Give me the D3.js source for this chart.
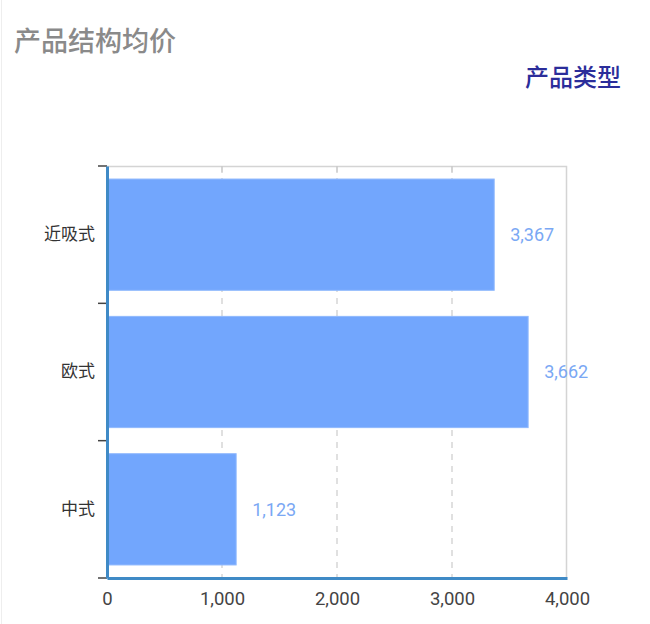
<!DOCTYPE html>
<html>
<head>
<meta charset="utf-8">
<script src="https://cdn.jsdelivr.net/npm/d3@7"></script>
<style>
  html, body { margin: 0; padding: 0; background: #fff; }
  #chart { width: 650px; height: 624px; }
  text { font-family: Roboto, "Noto Sans CJK SC", sans-serif; }
</style>
</head>
<body>
<div id="chart"></div>
<script>
// data
const categories = ['近吸式', '欧式', '中式']
const values = [3367, 3662, 1123]
const xTicks = [0, 1000, 2000, 3000, 4000]
const title = '产品结构均价'
const legendTitle = '产品类型'

const draw = () => {
    const width = 650
    const height = 624
    const margin = { top: 166, right: 83, bottom: 46, left: 107 }
    const innerW = width - margin.left - margin.right
    const innerH = height - margin.top - margin.bottom

    const svg = d3
        .select('#chart')
        .append('svg')
        .attr('width', width)
        .attr('height', height)

    // faint page edge
    svg.append('line')
        .attr('x1', 1.5).attr('x2', 1.5)
        .attr('y1', 0).attr('y2', height)
        .attr('stroke', '#eeeeee')

    svg.append('text')
        .attr('x', 14)
        .attr('y', 51)
        .attr('fill', '#8a8a8a')
        .style('font-family', '"Noto Sans CJK SC", sans-serif')
        .style('font-size', '27px')
        .style('font-weight', 500)
        .text(title)

    svg.append('text')
        .attr('x', 621)
        .attr('y', 86)
        .attr('text-anchor', 'end')
        .attr('fill', '#2b2d9a')
        .style('font-family', '"Noto Sans CJK SC", sans-serif')
        .style('font-size', '24px')
        .style('font-weight', 500)
        .text(legendTitle)

    const g = svg.append('g')
        .attr('transform', `translate(${margin.left},${margin.top})`)

    const xScale = d3.scaleLinear()
        .domain([0, 4000])
        .range([0, innerW])
    const yScale = d3.scaleBand()
        .domain(categories)
        .range([0, innerH])
        .padding(0)

    // frame (top + right)
    g.append('path')
        .attr('d', `M0,0.5H${innerW - 0.5}V${innerH}`)
        .attr('fill', 'none')
        .attr('stroke', '#d4d4d4')
        .attr('stroke-width', 1.5)

    // grid
    g.append('g')
        .selectAll('line')
        .data(xTicks.slice(1, -1))
        .join('line')
        .attr('x1', d => xScale(d))
        .attr('x2', d => xScale(d))
        .attr('y1', 0)
        .attr('y2', innerH)
        .attr('stroke', '#cccccc')
        .attr('stroke-width', 1.2)
        .attr('stroke-dasharray', '6,6')
    g.append('g')
        .selectAll('line')
        .data(xTicks.slice(1, -1))
        .join('line')
        .attr('x1', d => xScale(d))
        .attr('x2', d => xScale(d))
        .attr('y1', 0)
        .attr('y2', 7)
        .attr('stroke', '#cccccc')
        .attr('stroke-width', 1.2)

    // bars
    const inset = yScale.bandwidth() * 0.095
    const bars = categories.map((c, i) => ({ label: c, value: values[i] }))
    g.append('g')
        .selectAll('rect')
        .data(bars)
        .join('rect')
        .attr('x', 0)
        .attr('y', d => yScale(d.label) + inset)
        .attr('width', d => xScale(d.value))
        .attr('height', yScale.bandwidth() - inset * 2)
        .attr('fill', '#72a6fd')
        .attr('stroke', '#8fb8fd')
        .attr('stroke-width', 1)

    g.append('g')
        .selectAll('text')
        .data(bars)
        .join('text')
        .attr('x', d => xScale(d.value) + 16)
        .attr('y', d => yScale(d.label) + yScale.bandwidth() / 2)
        .attr('dy', '0.35em')
        .attr('fill', '#7aa8f4')
        .style('font-size', '18px')
        .text(d => d3.format(',')(d.value))

    // x axis
    const xAxis = g.append('g')
        .attr('transform', `translate(0,${innerH})`)
        .call(d3.axisBottom(xScale).tickValues(xTicks).tickFormat(d3.format(',')).tickSize(0).tickPadding(14))
    xAxis.select('.domain')
        .attr('stroke', '#3f8ac6')
        .attr('stroke-width', 3)
    xAxis.selectAll('text')
        .attr('fill', '#444')
        .style('font-size', '18.5px')

    // y axis
    const yTickPos = d3.range(categories.length + 1).map(i => i * yScale.step())
    g.append('g')
        .selectAll('line')
        .data(yTickPos)
        .join('line')
        .attr('x1', -9)
        .attr('x2', 0)
        .attr('y1', d => d)
        .attr('y2', d => d)
        .attr('stroke', '#444')
        .attr('stroke-width', 1.5)
    const yAxis = g.append('g')
        .call(d3.axisLeft(yScale).tickSize(0).tickPadding(12))
    yAxis.select('.domain')
        .attr('stroke', '#3f8ac6')
        .attr('stroke-width', 3)
    yAxis.selectAll('text')
        .attr('fill', '#333')
        .style('font-family', '"Noto Sans CJK SC", sans-serif')
        .style('font-size', '17px')
}

draw()
</script>
</body>
</html>
